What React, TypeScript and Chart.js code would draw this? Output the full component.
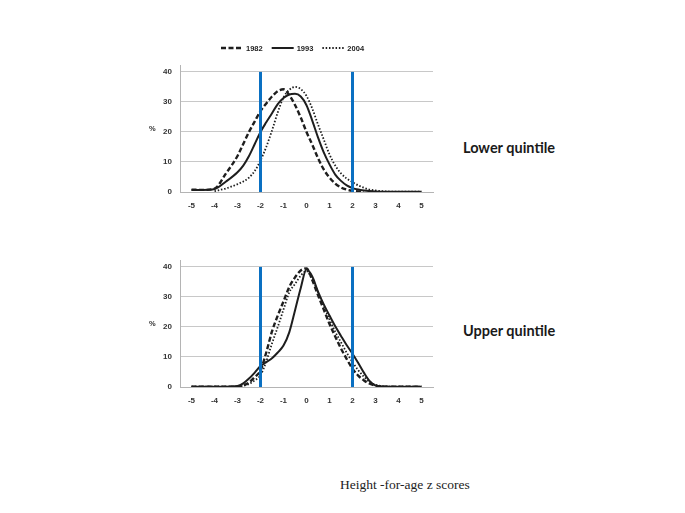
import React, { useEffect, useRef } from "react";
import { Chart, registerables } from "chart.js";

Chart.register(...registerables);

// z-scores (x positions of the sampled curve points)
const zScores = [-5, -4.5, -4, -3.5, -3, -2.75, -2.5, -2.25, -2, -1.75, -1.5, -1.25, -1, -0.75, -0.5, -0.25, 0, 0.25, 0.5, 0.75, 1, 1.25, 1.5, 1.75, 2, 2.25, 2.5, 2.75, 3, 3.5, 4, 4.5, 5];

// Lower quintile (%)
const lower1982 = [0.8, 0.7, 1.1, 6.2, 12, 16, 20, 23.5, 27, 29.5, 31.8, 33.6, 34.2, 32.3, 29, 24.8, 20, 15.8, 11.3, 7.5, 4.8, 2.8, 1.5, 0.8, 0.4, 0.2, 0.1, null, null, null, null, null, null];
const lower1993 = [0.7, 0.7, 1.0, 3.5, 6.6, 8.8, 12, 16, 20, 23.2, 26.2, 29.3, 31.3, 32.5, 32.7, 31.8, 28.9, 23.8, 18.2, 13.2, 9.2, 5.8, 3.7, 2.2, 1.3, 0.8, 0.5, 0.3, 0.2, 0.1, 0.1, 0.1, 0.1];
const lower2004 = [null, null, 0.3, 1.2, 2.6, 3.5, 4.8, 7, 10.5, 15, 20.5, 26.5, 31.5, 34, 35, 34.3, 32, 27.8, 22.5, 17.5, 12.5, 8.8, 6.2, 4.5, 3.3, 2.2, 1.4, 0.8, 0.5, 0.2, 0.1, 0.1, 0.1];

// Upper quintile (%)
const upper1982 = [0.1, 0.1, 0.1, 0.1, 0.2, 0.6, 1.5, 3.3, 5.5, 11.5, 18.5, 23.8, 28.5, 33.3, 36.5, 38.8, 39.5, 35.6, 30.6, 25.8, 21, 16.8, 12.8, 9.3, 6.1, 3.8, 2.2, 1.1, 0.5, 0.1, 0.1, 0.1, 0.1];
const upper1993 = [0.1, 0.1, 0.1, 0.1, 0.3, 1.2, 2.8, 4.8, 7, 8.3, 9.6, 11.5, 13.8, 18.2, 25.5, 33, 39.2, 36.8, 31.8, 27.5, 23.8, 20.2, 17, 13.9, 11.1, 8, 4.7, 1.9, 0.5, 0.1, 0.1, 0.1, 0.1];
const upper2004 = [0.1, 0.1, 0.1, 0.1, 0.2, 0.4, 1, 2.2, 3.9, 8.5, 14.5, 20, 25.8, 31.5, 34.3, 37.1, 38.6, 35.8, 31.6, 27, 22.5, 18.4, 14.9, 11.4, 8.3, 5.6, 3.4, 1.7, 0.7, 0.2, 0.1, 0.1, 0.1];

const seriesNames = ["1982", "1993", "2004"];
const cutoffs = [-2, 2];
const xTicks = [-5, -4, -3, -2, -1, 0, 1, 2, 3, 4, 5];
const yTicks = [0, 10, 20, 30, 40];
const yLabel = "%";
const panelTitles = ["Lower quintile", "Upper quintile"];
const xAxisTitle = "Height -for-age z scores";

const seriesStyles = [
  { borderDash: [5, 2.5], borderWidth: 2.4, borderCapStyle: "butt" },
  { borderDash: [], borderWidth: 2, borderCapStyle: "butt" },
  { borderDash: [1.5, 1.8], borderWidth: 1.8, borderCapStyle: "butt" },
];

const customLegend = {
  id: "customLegend",
  afterDraw(chart: any, _args: any, opts: any) {
    if (!opts || !opts.display) return;
    const ctx = chart.ctx;
    ctx.save();
    ctx.font = "bold 7.5px 'Liberation Sans', Arial, sans-serif";
    ctx.textBaseline = "middle";
    let x = opts.x;
    const y = opts.y;
    chart.data.datasets.forEach((ds: any) => {
      if (!ds.isSeries) return;
      ctx.beginPath();
      ctx.setLineDash(ds.borderDash || []);
      ctx.lineWidth = ds.borderWidth;
      ctx.strokeStyle = ds.borderColor;
      ctx.moveTo(x, y);
      ctx.lineTo(x + 22, y);
      ctx.stroke();
      ctx.setLineDash([]);
      ctx.fillStyle = "#222";
      ctx.fillText(ds.label, x + 25, y + 0.5);
      x += 25 + ctx.measureText(ds.label).width + 9;
    });
    ctx.restore();
  },
};

function Panel({ series, showLegend, top }: { series: (number | null)[][]; showLegend: boolean; top: number }) {
  const ref = useRef<HTMLCanvasElement>(null);
  useEffect(() => {
    if (!ref.current) return;
    const datasets: any[] = series.map((vals, i) => ({
      label: seriesNames[i],
      isSeries: true,
      data: zScores.map((z, j) => ({ x: z, y: vals[j] })),
      borderColor: "#1e1e1e",
      backgroundColor: "#1e1e1e",
      pointRadius: 0,
      cubicInterpolationMode: "monotone",
      fill: false,
      order: 1,
      ...seriesStyles[i],
    }));
    cutoffs.forEach((c) => {
      datasets.push({
        label: "cutoff " + c,
        isSeries: false,
        data: [
          { x: c, y: 0 },
          { x: c, y: yTicks[yTicks.length - 1] },
        ],
        borderColor: "#0a70c2",
        borderWidth: 3,
        pointRadius: 0,
        fill: false,
        order: 0,
      });
    });
    const tickFont = { family: "'Liberation Sans', Arial, sans-serif", size: 8, weight: "bold" as const };
    const chart = new Chart(ref.current, {
      type: "line",
      data: { datasets },
      options: {
        animation: false,
        responsive: false,
        maintainAspectRatio: false,
        layout: { padding: { top: 35, right: 7, bottom: 0, left: 0 } },
        plugins: {
          legend: { display: false },
          tooltip: { enabled: false },
          customLegend: { display: showLegend, x: 81, y: 18 },
        } as any,
        scales: {
          x: {
            type: "linear",
            min: -5.5,
            max: 5.5,
            afterBuildTicks: (s: any) => {
              s.ticks = xTicks.map((v) => ({ value: v }));
            },
            afterFit: (s: any) => {
              s.height = 25;
            },
            grid: { display: false, drawTicks: false },
            border: { display: true, color: "#b4b4b4", width: 1 },
            ticks: { padding: 9, color: "#333", font: tickFont, maxRotation: 0, autoSkip: false },
          },
          y: {
            type: "linear",
            min: 0,
            max: 42.3,
            afterBuildTicks: (s: any) => {
              s.ticks = yTicks.map((v) => ({ value: v }));
            },
            afterFit: (s: any) => {
              s.width = 40;
            },
            grid: { color: "#c8c8c8", lineWidth: 1, drawTicks: false },
            border: { display: true, color: "#b4b4b4", width: 1 },
            ticks: { padding: 8, color: "#333", font: tickFont },
          },
        },
      },
      plugins: [customLegend],
    });
    return () => chart.destroy();
  }, []);
  return (
    <div style={{ position: "absolute", left: 140, top, width: 300, height: 187 }}>
      <canvas ref={ref} width={300} height={187} style={{ width: 300, height: 187, display: "block" }} />
    </div>
  );
}

export default function App() {
  const titleStyle: React.CSSProperties = {
    position: "absolute",
    left: 463,
    fontFamily: "Lato, 'Open Sans', sans-serif",
    fontWeight: 700,
    fontSize: 14.5,
    lineHeight: "16px",
    color: "#1a1a1a",
    whiteSpace: "nowrap",
  };
  const pctStyle: React.CSSProperties = {
    position: "absolute",
    left: 149,
    fontFamily: "'Liberation Sans', Arial, sans-serif",
    fontWeight: 700,
    fontSize: 7.5,
    lineHeight: "8px",
    color: "#333",
  };
  return (
    <div style={{ position: "absolute", left: 0, top: 0, width: 685, height: 513, background: "#fff", overflow: "hidden" }}>
      <Panel series={[lower1982, lower1993, lower2004]} showLegend={true} top={30} />
      <Panel series={[upper1982, upper1993, upper2004]} showLegend={false} top={225} />
      <div style={{ ...pctStyle, top: 125 }}>{yLabel}</div>
      <div style={{ ...pctStyle, top: 320 }}>{yLabel}</div>
      <div style={{ ...titleStyle, top: 140 }}>{panelTitles[0]}</div>
      <div style={{ ...titleStyle, top: 323 }}>{panelTitles[1]}</div>
      <div
        style={{
          position: "absolute",
          left: 340,
          top: 477,
          fontFamily: "'Liberation Serif', 'Times New Roman', serif",
          fontSize: 13.5,
          lineHeight: "16px",
          color: "#222",
          whiteSpace: "nowrap",
        }}
      >
        {xAxisTitle}
      </div>
    </div>
  );
}
